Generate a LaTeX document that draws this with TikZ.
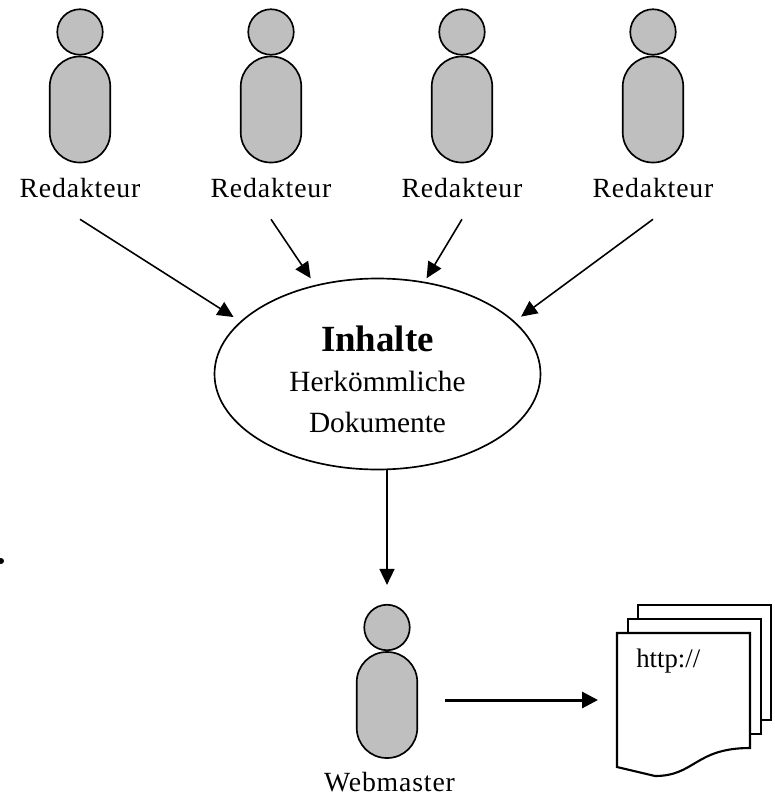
\documentclass[tikz,border=0pt]{standalone}
\usepackage{fontspec}
\setmainfont{Liberation Serif}
\usepackage{tikz}
\usetikzlibrary{shapes.geometric, arrows.meta}
\definecolor{figurgrau}{gray}{0.75}
\tikzstyle{kopf} = [circle, minimum size=0.91cm, inner sep=0pt, line width=0.95pt, draw=black, fill=figurgrau]
\tikzstyle{koerper} = [rectangle, rounded corners=0.6cm, minimum width=1.21cm, minimum height=2.12cm, inner sep=0pt, line width=0.95pt, draw=black, fill=figurgrau]
\tikzstyle{solotexto} = [align=center, inner sep=0pt, font=\fontsize{15.8}{19}\selectfont\addfontfeature{LetterSpace=3}]
\tikzstyle{fuss} = [solotexto, outer ysep=0.43cm]
\tikzstyle{blob} = [ellipse, minimum width=6.52cm, minimum height=3.82cm, inner sep=0pt, line width=0.95pt, draw=black]
\tikzstyle{seite} = [line width=1.2pt, draw=black, fill=white]
\tikzstyle{arrow} = [line width=0.9pt,-{Triangle[length=0.32cm,width=0.3cm]}]

\begin{document}
\begin{tikzpicture}[node distance=3.82cm]
        \useasboundingbox (0,0) rectangle (15.5,-15.9);
        \node (kopf1) [kopf] at (1.6,-0.64) {};
        \node (kopf2) [kopf, right of=kopf1] {};
        \node (kopf3) [kopf, right of=kopf2] {};
        \node (kopf4) [kopf, right of=kopf3] {};
        \node (kopf5) [kopf] at (7.74,-12.55) {};

        \node (koerper1) [koerper, below of=kopf1, node distance=1.55cm] {};
        \node (koerper2) [koerper, below of=kopf2, node distance=1.55cm] {};
        \node (koerper3) [koerper, below of=kopf3, node distance=1.55cm] {};
        \node (koerper4) [koerper, below of=kopf4, node distance=1.55cm] {};
        \node (koerper5) [koerper, below of=kopf5, node distance=1.55cm] {};

        \node (red1) [fuss, below of=kopf1, node distance=3.12cm] {Redakteur};
        \node (red2) [fuss, below of=kopf2, node distance=3.12cm] {Redakteur};
        \node (red3) [fuss, below of=kopf3, node distance=3.12cm] {Redakteur};
        \node (red4) [fuss, below of=kopf4, node distance=3.12cm] {Redakteur};
        \node (web) [solotexto, below of=kopf5, node distance=3.1cm, xshift=0.05cm] {Webmaster};

        \node (inhalte) [blob] at (7.55,-7.48) {};
        \node (inhaltetext) [solotexto, font=\fontsize{16.7}{23}\selectfont] at (7.55,-7.58) {{\fontsize{21}{23}\selectfont\bfseries Inhalte}\\ Herk\"ommliche\\ Dokumente};

        \node (punkt) [circle, fill=black, minimum size=0.12cm, inner sep=0pt] at (0.02,-11.22) {};

        \path [seite] (12.76,-12.1) rectangle (15.42,-14.4);
        \path [seite] (12.56,-12.38) rectangle (15.22,-14.68);
        \path [seite] (12.34,-12.66) -- (15,-12.66) -- (15,-14.96) .. controls (13.9,-14.96) and (13.9,-15.52) .. (13.1,-15.52) -- (12.34,-15.34) -- cycle;
        \node (http) [solotexto, font=\fontsize{15.2}{19}\selectfont, anchor=west] at (12.72,-13.22) {http://};
        \coordinate (blatt) at (11.96,-14);

        \draw [arrow, shorten >=0.16cm] (red1.south) -- (inhalte.159);
        \draw [arrow, shorten >=0.16cm] (red2.south) -- (inhalte.125);
        \draw [arrow, shorten >=0.08cm] (red3.south) -- (inhalte.63);
        \draw [arrow, shorten >=0.16cm] (red4.south) -- (inhalte.21);
        \draw [arrow, shorten >=0.38cm] (kopf5 |- inhalte.south) -- (kopf5.north);
        \draw [arrow, line width=1.7pt, -{Triangle[length=0.32cm,width=0.32cm]}, shorten <=0.54cm] (koerper5.east |- blatt) -- (blatt);
    \end{tikzpicture}
\end{document}
